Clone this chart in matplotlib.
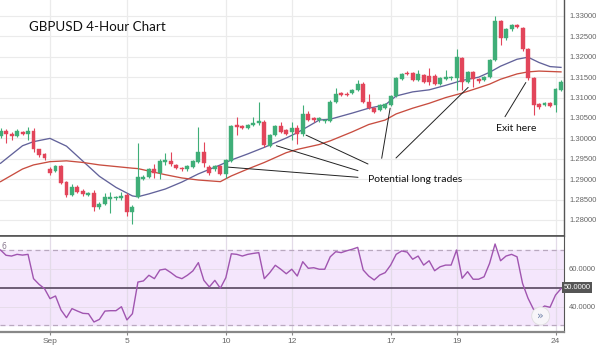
import matplotlib
matplotlib.use("Agg")
import matplotlib.pyplot as plt
from matplotlib.patches import Ellipse
import numpy as np

# ---------------- data ----------------
opens = [1.3006, 1.3018, 1.3011, 1.3006, 1.3014, 1.3011, 1.3018, 1.2973, 1.2961, 1.2926,
         1.2920, 1.2933, 1.2894, 1.2861, 1.2882, 1.2872, 1.2861, 1.2867, 1.2831, 1.2839,
         1.2851, 1.2853, 1.2853, 1.2861, 1.2820, 1.2857, 1.2901, 1.2905, 1.2924, 1.2914,
         1.2943, 1.2945, 1.2935, 1.2928, 1.2924, 1.2931, 1.2943, 1.2967, 1.2931, 1.2924,
         1.2932, 1.2913, 1.2945, 1.3033, 1.3031, 1.3025, 1.3033, 1.3037, 1.3041, 1.2981,
         1.3008, 1.3030, 1.3021, 1.3015, 1.3025, 1.3010, 1.3059, 1.3049, 1.3044, 1.3042,
         1.3043, 1.3090, 1.3111, 1.3110, 1.3111, 1.3119, 1.3133, 1.3090, 1.3075, 1.3070,
         1.3075, 1.3082, 1.3104, 1.3145, 1.3161, 1.3160, 1.3143, 1.3155, 1.3154, 1.3154,
         1.3133, 1.3146, 1.3147, 1.3147, 1.3196, 1.3139, 1.3163, 1.3145, 1.3143, 1.3151,
         1.3192, 1.3288, 1.3245, 1.3268, 1.3278, 1.3270, 1.3218, 1.3147, 1.3084, 1.3082,
         1.3086, 1.3082, 1.3119]
highs = [1.3025, 1.3023, 1.3016, 1.3023, 1.3018, 1.3029, 1.3025, 1.2975, 1.2963, 1.2929,
         1.2935, 1.2936, 1.2896, 1.2888, 1.2885, 1.2875, 1.2868, 1.2874, 1.2843, 1.2866,
         1.2869, 1.2860, 1.2869, 1.2866, 1.2837, 1.2988, 1.2910, 1.2927, 1.2937, 1.2949,
         1.2963, 1.2967, 1.2938, 1.2931, 1.2936, 1.2948, 1.3027, 1.2992, 1.2934, 1.2935,
         1.2935, 1.2950, 1.3033, 1.3053, 1.3034, 1.3036, 1.3052, 1.3090, 1.3044, 1.3011,
         1.3034, 1.3040, 1.3024, 1.3041, 1.3033, 1.3082, 1.3067, 1.3052, 1.3052, 1.3048,
         1.3093, 1.3123, 1.3114, 1.3113, 1.3122, 1.3143, 1.3139, 1.3108, 1.3078, 1.3085,
         1.3087, 1.3107, 1.3150, 1.3161, 1.3164, 1.3163, 1.3168, 1.3158, 1.3172, 1.3157,
         1.3150, 1.3168, 1.3154, 1.3218, 1.3199, 1.3166, 1.3166, 1.3148, 1.3154, 1.3195,
         1.3300, 1.3291, 1.3271, 1.3281, 1.3281, 1.3273, 1.3221, 1.3150, 1.3087, 1.3089,
         1.3089, 1.3124, 1.3142]
lows = [1.3001, 1.2989, 1.2996, 1.3003, 1.3008, 1.2996, 1.2967, 1.2954, 1.2947, 1.2911,
        1.2918, 1.2888, 1.2856, 1.2858, 1.2866, 1.2860, 1.2858, 1.2823, 1.2828, 1.2836,
        1.2816, 1.2850, 1.2850, 1.2810, 1.2790, 1.2853, 1.2898, 1.2902, 1.2903, 1.2901,
        1.2935, 1.2933, 1.2924, 1.2921, 1.2921, 1.2928, 1.2940, 1.2931, 1.2911, 1.2921,
        1.2910, 1.2902, 1.2943, 1.3008, 1.3022, 1.3022, 1.3030, 1.3034, 1.2980, 1.2978,
        1.3005, 1.3013, 1.3008, 1.2996, 1.2986, 1.3007, 1.3042, 1.3041, 1.3041, 1.3038,
        1.3040, 1.3087, 1.3103, 1.3103, 1.3108, 1.3116, 1.3086, 1.3072, 1.3062, 1.3067,
        1.3072, 1.3079, 1.3101, 1.3142, 1.3155, 1.3140, 1.3140, 1.3136, 1.3131, 1.3130,
        1.3130, 1.3143, 1.3144, 1.3119, 1.3119, 1.3136, 1.3127, 1.3135, 1.3140, 1.3148,
        1.3189, 1.3229, 1.3242, 1.3264, 1.3270, 1.3215, 1.3143, 1.3057, 1.3073, 1.3079,
        1.3077, 1.3065, 1.3116]
closes = [1.3019, 1.3010, 1.3006, 1.3018, 1.3011, 1.3018, 1.2973, 1.2959, 1.2951, 1.2914,
          1.2932, 1.2891, 1.2861, 1.2882, 1.2869, 1.2863, 1.2865, 1.2831, 1.2839, 1.2856,
          1.2856, 1.2857, 1.2860, 1.2820, 1.2831, 1.2905, 1.2905, 1.2924, 1.2914, 1.2945,
          1.2947, 1.2937, 1.2927, 1.2924, 1.2933, 1.2945, 1.2967, 1.2939, 1.2914, 1.2932,
          1.2913, 1.2947, 1.3030, 1.3029, 1.3025, 1.3033, 1.3038, 1.3043, 1.2984, 1.3008,
          1.3030, 1.3016, 1.3011, 1.3025, 1.3010, 1.3059, 1.3045, 1.3044, 1.3049, 1.3045,
          1.3090, 1.3108, 1.3106, 1.3106, 1.3119, 1.3133, 1.3090, 1.3075, 1.3065, 1.3082,
          1.3084, 1.3104, 1.3147, 1.3158, 1.3158, 1.3143, 1.3157, 1.3139, 1.3139, 1.3133,
          1.3147, 1.3151, 1.3151, 1.3199, 1.3139, 1.3163, 1.3145, 1.3141, 1.3151, 1.3192,
          1.3288, 1.3245, 1.3268, 1.3278, 1.3272, 1.3218, 1.3147, 1.3082, 1.3076, 1.3086,
          1.3080, 1.3121, 1.3139]

ma_index = [0, 4, 6, 9, 12, 15, 18, 21, 24, 25, 27, 30, 33, 36, 40, 42, 45, 48, 52, 54,
            58, 60, 64, 67, 70, 72, 75, 78, 81, 84, 87, 89, 91, 94, 96, 98, 100, 102]
ma_fast = [1.2939, 1.2982, 1.2992, 1.3000, 1.2981, 1.2944, 1.2907, 1.2880, 1.2859, 1.2857,
           1.2864, 1.2876, 1.2893, 1.2913, 1.2935, 1.2947, 1.2962, 1.2978, 1.3001, 1.3014,
           1.3045, 1.3047, 1.3062, 1.3074, 1.3082, 1.3104, 1.3114, 1.3119, 1.3130, 1.3142,
           1.3150, 1.3162, 1.3177, 1.3194, 1.3199, 1.3186, 1.3176, 1.3174]
ma_slow = [1.2894, 1.2925, 1.2935, 1.2943, 1.2945, 1.2941, 1.2935, 1.2931, 1.2927, 1.2926,
           1.2920, 1.2911, 1.2903, 1.2898, 1.2894, 1.2908, 1.2925, 1.2941, 1.2965, 1.2973,
           1.2985, 1.2994, 1.3016, 1.3034, 1.3045, 1.3060, 1.3074, 1.3086, 1.3100, 1.3111,
           1.3124, 1.3133, 1.3145, 1.3158, 1.3163, 1.3165, 1.3164, 1.3163]

rsi = [70.0, 67.2, 66.8, 67.7, 67.3, 67.7, 54.8, 51.8, 49.5, 44.2,
       45.6, 38.2, 34.1, 38.9, 37.6, 36.4, 36.2, 31.8, 33.2, 37.6,
       37.8, 37.8, 39.9, 32.9, 36.2, 53.0, 53.6, 56.6, 54.8, 59.4,
       59.9, 58.0, 55.8, 54.8, 56.6, 58.9, 63.3, 53.9, 50.4, 53.9,
       49.7, 55.3, 68.0, 67.7, 66.8, 67.7, 68.2, 68.6, 54.8, 58.0,
       61.9, 59.8, 57.4, 59.8, 56.2, 63.8, 60.3, 60.6, 59.8, 59.8,
       66.4, 69.1, 68.6, 69.6, 70.4, 71.4, 59.4, 56.2, 54.1, 56.7,
       58.0, 62.0, 67.7, 69.5, 68.9, 65.1, 66.8, 62.0, 64.3, 59.0,
       61.1, 62.0, 62.0, 70.0, 55.0, 58.5, 54.5, 54.5, 55.8, 62.9,
       73.2, 64.3, 66.8, 67.7, 66.4, 52.3, 44.4, 38.5, 37.9, 40.3,
       39.6, 46.1, 49.5]

date_ticks = [9, 23, 41, 53, 71, 83, 101]
date_labels = ["Sep", "5", "10", "12", "17", "19", "24"]
price_ticks = [1.280, 1.285, 1.290, 1.295, 1.300, 1.305, 1.310, 1.315, 1.320, 1.325, 1.330]
rsi_ticks = [40, 60]

# annotation anchors (candle index, price)
long_targets = [(41, 1.2930), (50.2, 1.2982), (55.6, 1.3008), (70.9, 1.3074), (85.1, 1.3125)]
exit_target = (95.6, 1.3137)

# ---------------- figure ----------------
W, H = 601, 351
fig = plt.figure(figsize=(W / 100, H / 100), dpi=100)
fig.patch.set_facecolor("white")

def px(x, y):
    return (x / W, 1 - y / H)

right = 563.5
top_main, bot_main, bot_rsi = 0, 235.5, 331.5
ax = fig.add_axes([0, 1 - bot_main / H, right / W, (bot_main - top_main) / H])
ax2 = fig.add_axes([0, 1 - bot_rsi / H, right / W, (bot_rsi - bot_main) / H], sharex=ax)

GREEN = "#3fae78"
RED = "#e2455a"
GRID = "#ebebeb"
TXT = "#666666"

n = len(opens)
idx = np.arange(n)
o = np.array(opens); c = np.array(closes); h = np.array(highs); l = np.array(lows)
up = c >= o
cols = np.where(up, GREEN, RED)

ax.vlines(idx, l, h, colors=cols, linewidth=0.8, zorder=3)
body_lo = np.minimum(o, c)
body_h = np.maximum(np.abs(c - o), 0.00035)
ax.bar(idx, body_h, bottom=body_lo, width=0.72, color=cols, edgecolor=cols,
       linewidth=0.3, zorder=4)

ax.plot(ma_index, ma_fast, color="#62629a", lw=0.95, zorder=2)
ax.plot(ma_index, ma_slow, color="#c84d40", lw=0.95, zorder=2)

ax.set_xlim(-0.1, right / 5.5)
ax.set_ylim(1.27620, 1.33392)

for t in price_ticks:
    ax.axhline(t, color=GRID, lw=0.8, zorder=0)
for t in date_ticks:
    ax.axvline(t, color=GRID, lw=0.9, zorder=0)
    ax2.axvline(t, color="#e3dbe8", lw=0.9, zorder=1)

ax.yaxis.tick_right()
ax.set_yticks(price_ticks)
ax.set_yticklabels([f"{t:.5f}" for t in price_ticks])
ax.tick_params(axis="y", length=0, pad=4, labelsize=5.5, labelcolor=TXT)
for lab in ax.get_yticklabels():
    lab.set_fontfamily("Liberation Sans")
ax.tick_params(axis="x", length=0, labelbottom=False)

for s in ["left", "top"]:
    ax.spines[s].set_visible(False)
ax.spines["right"].set_color("#555555")
ax.spines["right"].set_linewidth(1.0)
ax.spines["bottom"].set_color("#555555")
ax.spines["bottom"].set_linewidth(1.2)

# ---- RSI panel ----
ax2.set_ylim(26.76, 77.7)
ax2.axhspan(30, 70, color="#f4e6fc", zorder=0)
ax2.axhline(70, color="#b9a8bf", lw=0.9, ls=(0, (4, 3)), zorder=1)
ax2.axhline(30, color="#b9a8bf", lw=0.9, ls=(0, (4, 3)), zorder=1)
for t in rsi_ticks:
    ax2.axhline(t, color="#e6dcea", lw=0.7, zorder=1)
ax2.axhline(50, color="#62526a", lw=1.3, zorder=2)
ax2.plot(idx, rsi, color="#a055b0", lw=1.0, zorder=3)

ax2.yaxis.tick_right()
ax2.set_yticks(rsi_ticks)
ax2.set_yticklabels([f"{t:.4f}" for t in rsi_ticks])
ax2.tick_params(axis="y", length=0, pad=4, labelsize=5.5, labelcolor=TXT)
for lab in ax2.get_yticklabels():
    lab.set_fontfamily("Liberation Sans")
ax2.set_xticks(date_ticks)
ax2.set_xticklabels(date_labels)
ax2.tick_params(axis="x", length=2, width=0.8, color="#888888", pad=3, labelsize=6,
                labelcolor=TXT)
for lab in ax2.get_xticklabels():
    lab.set_fontfamily("Liberation Sans")
ax2.spines["left"].set_visible(False)
ax2.spines["top"].set_color("#555555")
ax2.spines["top"].set_linewidth(1.2)
ax2.spines["right"].set_color("#555555")
ax2.spines["bottom"].set_color("#888888")
ax2.spines["bottom"].set_linewidth(1.6)

# boxed 50 label
ax2.text(1.0, 50, "50.0000", transform=ax2.get_yaxis_transform(), ha="left", va="center",
         fontsize=5.5, color="white", family="Liberation Sans",
         bbox=dict(boxstyle="square,pad=0.25", fc="#555555", ec="none"))
fig.text(*px(1.5, 246.5), "6", fontsize=5.5, color="#8a7a90", ha="left", va="center")

# navigation circle
cx, cy = px(540.7, 316)
fig.patches.append(Ellipse((cx, cy), 18 / W, 18 / H, transform=fig.transFigure,
                           facecolor="#f7f5f9", edgecolor="#dddddd", lw=0.6, zorder=5))
fig.text(cx, cy, "»", ha="center", va="center", fontsize=8, color="#6f82a8", zorder=6)

# ---- texts & annotations ----
fig.text(*px(29, 27), "GBPUSD 4-Hour Chart", fontsize=9.6, family="Lato",
         color="#111111", ha="left", va="center")
fig.text(*px(368, 179.3), "Potential long trades", fontsize=7.5, family="Lato",
         color="#111111", ha="left", va="center")
fig.text(*px(496, 128.3), "Exit here", fontsize=7.5, family="Lato",
         color="#111111", ha="left", va="center")

long_ends = [(358, 177.3), (358, 170.7), (368, 164), (381.7, 158.3), (396, 158)]
for (ti, tp), (ex, ey) in zip(long_targets, long_ends):
    ax.annotate("", xy=(ti, tp), xycoords="data", xytext=px(ex, ey),
                textcoords="figure fraction",
                arrowprops=dict(arrowstyle="-", color="#222222", lw=0.7,
                                shrinkA=0, shrinkB=0), annotation_clip=False)
ax.annotate("", xy=exit_target, xycoords="data", xytext=px(505, 116.7),
            textcoords="figure fraction",
            arrowprops=dict(arrowstyle="-", color="#222222", lw=0.7,
                            shrinkA=0, shrinkB=0), annotation_clip=False)

fig.savefig("out.png", dpi=100, facecolor="white")
